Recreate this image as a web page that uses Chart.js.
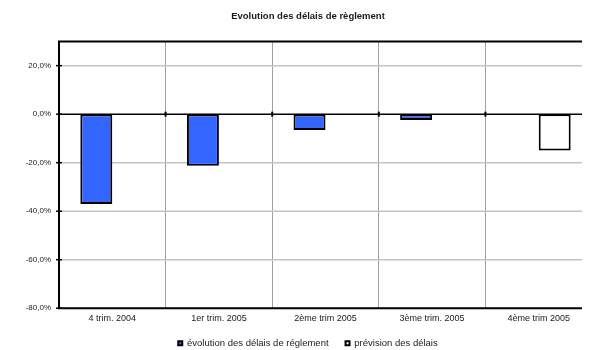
<!DOCTYPE html>
<html lang="fr">
<head>
<meta charset="utf-8">
<title>Evolution des délais de règlement</title>
<script src="https://cdn.jsdelivr.net/npm/chart.js@4.4.1/dist/chart.umd.min.js"></script>
<style>
  html, body { margin: 0; padding: 0; background: #fff; }
  #wrap { width: 598px; height: 350px; }
</style>
</head>
<body>
<div id="wrap"><canvas id="chart" width="598" height="350"></canvas></div>
<script>
// Quarters on the category axis
const categories = ['4 trim. 2004', '1er trim. 2005', '2ème trim 2005', '3ème trim. 2005', '4ème trim 2005'];
// Observed change in payment delays (%)
const evolution = [-37.0, -21.3, -6.5, -2.4, null];
// Forecast for the last quarter (%)
const prevision = [null, null, null, null, -15.0];
// Value-axis ticks (%)
const yTicks = [20, 0, -20, -40, -60, -80];
const yMin = -80;
const yMax = 30;

const FONT = '"Liberation Sans", Arial, sans-serif';
const TEXT = '#1a1a1a';
const plotRightInset = 10;

const fmtPct = v => v.toFixed(1).replace('.', ',') + '%';

// Frame, horizontal grid, zero line and tick marks
const framePlugin = {
  id: 'frame',
  beforeDatasetsDraw(chart) {
    const { ctx, chartArea: a, scales: { y } } = chart;
    const right = a.right - plotRightInset;
    ctx.save();
    ctx.strokeStyle = '#c4c4c4';
    ctx.lineWidth = 1.5;
    yTicks.forEach(v => {
      if (v === 0 || v === yMin) return;
      const py = y.getPixelForValue(v);
      ctx.beginPath();
      ctx.moveTo(a.left, py);
      ctx.lineTo(right, py);
      ctx.stroke();
    });
    ctx.restore();
  },
  afterDatasetsDraw(chart) {
    const { ctx, chartArea: a, scales: { x, y } } = chart;
    const right = a.right - plotRightInset;
    const zero = y.getPixelForValue(0);
    ctx.save();
    ctx.strokeStyle = '#000';
    // zero line
    ctx.lineWidth = 1.5;
    ctx.beginPath();
    ctx.moveTo(a.left, zero);
    ctx.lineTo(right, zero);
    ctx.stroke();
    // tick marks on the zero line at category boundaries
    ctx.lineWidth = 2;
    for (let i = 1; i < categories.length; i++) {
      const bx = (x.getPixelForValue(i - 1) + x.getPixelForValue(i)) / 2;
      ctx.beginPath();
      ctx.moveTo(bx, zero - 2.5);
      ctx.lineTo(bx, zero + 2.5);
      ctx.stroke();
    }
    // top and bottom frame
    ctx.lineWidth = 2;
    [a.top, a.bottom].forEach(py => {
      ctx.beginPath();
      ctx.moveTo(a.left - 1, py);
      ctx.lineTo(right, py);
      ctx.stroke();
    });
    // value axis
    ctx.beginPath();
    ctx.moveTo(a.left, a.top);
    ctx.lineTo(a.left, a.bottom);
    ctx.stroke();
    // value axis tick marks
    ctx.lineWidth = 1.5;
    yTicks.forEach(v => {
      const py = y.getPixelForValue(v);
      ctx.beginPath();
      ctx.moveTo(a.left - 3, py);
      ctx.lineTo(a.left + 3, py);
      ctx.stroke();
    });
    ctx.restore();
  }
};

new Chart(document.getElementById('chart'), {
  type: 'bar',
  data: {
    labels: categories,
    datasets: [
      {
        label: 'évolution des délais de réglement',
        data: evolution,
        backgroundColor: '#3366ff',
        borderColor: '#000',
        borderWidth: 2,
        borderSkipped: false
      },
      {
        label: 'prévision des délais',
        data: prevision,
        backgroundColor: '#ffffff',
        borderColor: '#000',
        borderWidth: 2,
        borderSkipped: false
      }
    ]
  },
  options: {
    responsive: false,
    animation: false,
    devicePixelRatio: 1,
    layout: { padding: { left: 24, right: 6, top: 0, bottom: -8 } },
    datasets: { bar: { categoryPercentage: 0.6, barPercentage: 1.0 } },
    scales: {
      x: {
        offset: true,
        border: { display: false },
        afterFit: s => { s.height = s.height - 7.5; },
        grid: {
          offset: true,
          drawTicks: false,
          lineWidth: 1,
          color: c => (c.type === 'tick' && c.index > 0) ? '#a0a0a0' : 'rgba(0,0,0,0)'
        },
        ticks: {
          padding: 5,
          maxRotation: 0,
          autoSkip: false,
          color: TEXT,
          font: { family: FONT, size: 9 }
        }
      },
      y: {
        min: yMin,
        max: yMax,
        border: { display: false },
        grid: { display: false, drawTicks: false },
        afterBuildTicks: s => { s.ticks = yTicks.map(v => ({ value: v })); },
        afterFit: s => { s.width = 35; },
        ticks: {
          padding: 8,
          color: TEXT,
          font: { family: FONT, size: 8 },
          callback: v => fmtPct(v)
        }
      }
    },
    plugins: {
      title: {
        display: true,
        text: 'Evolution des délais de règlement',
        color: TEXT,
        font: { family: FONT, size: 9.5, weight: 'bold' },
        padding: { top: 11, bottom: 19 }
      },
      legend: {
        position: 'bottom',
        labels: {
          boxWidth: 4,
          boxHeight: 4,
          padding: 17,
          color: TEXT,
          font: { family: FONT, size: 9.5 }
        }
      },
      tooltip: { enabled: false }
    }
  },
  plugins: [framePlugin]
});
</script>
</body>
</html>
